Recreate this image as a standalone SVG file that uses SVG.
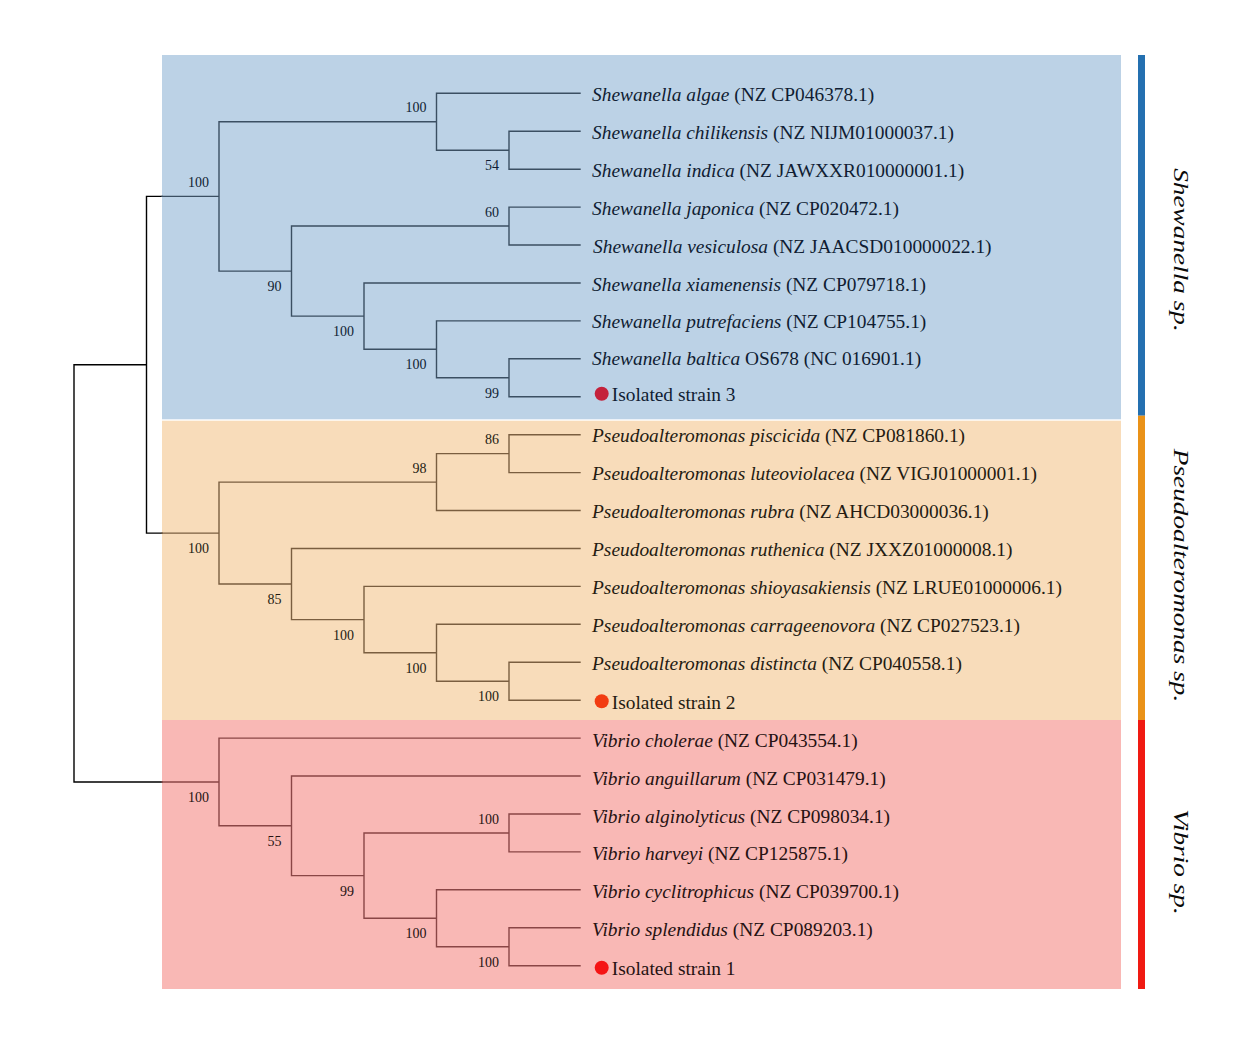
<svg xmlns="http://www.w3.org/2000/svg" width="1254" height="1049" viewBox="0 0 1254 1049">
<style>
.t{font-family:"Liberation Serif","Times New Roman",serif;font-size:19.4px}
.i{font-style:italic}
.bs{font-family:"Liberation Serif","Times New Roman",serif;font-size:14px;text-anchor:end}
.cl{font-family:"Liberation Serif","Times New Roman",serif;font-size:22px;font-style:italic;text-anchor:middle;fill:#0a0a0a}
.br{fill:none;stroke-width:1.4;stroke-linecap:square}
.sh{stroke:#3b4f62}.ps{stroke:#7a5e40}.vb{stroke:#8a4646}.rt{stroke:#000}
.tsh{fill:#101d33}.tps{fill:#241b12}.tvb{fill:#261212}
</style>
<rect width="1254" height="1049" fill="#fff"/>
<g id="backgrounds">
<rect x="162" y="55" width="959" height="364.3" fill="#bcd2e6"/>
<rect x="162" y="420.7" width="959" height="299.3" fill="#f8dcba"/>
<rect x="162" y="720" width="959" height="269" fill="#f9b8b5"/>
</g>
<g id="bars">
<rect x="1138" y="55" width="7" height="360.7" fill="#2470b0"/>
<rect x="1138" y="415.7" width="7" height="304.3" fill="#ea9218"/>
<rect x="1138" y="720" width="7" height="269" fill="#f01a12"/>
</g>
<g id="connectors">
<path class="br rt" d="M146.5 364.75 H74 V572.8 M74 573.8 V781.95 H162 M162 196.4 H146.5 V533.1 H162"/>
<path class="br sh" d="M162 196.4 H219 M580 131.2 H509 V169.2 H580 M580 93.3 H436.5 V150.2 H509 M580 207.1 H509 V245 H580 M580 358.8 H509 V396.7 H580 M580 320.9 H436.5 V377.75 H509 M580 283 H364 V349.3 H436.5 M509 226.05 H291.5 V316.15 H364 M436.5 121.75 H219 V271.1 H291.5"/>
<path class="br ps" d="M162 533.1 H219 M580 434.7 H509 V472.6 H580 M509 453.65 H436.5 V510.5 H580 M580 662.3 H509 V700.2 H580 M580 624.3 H436.5 V681.25 H509 M580 586.4 H364 V652.8 H436.5 M580 548.5 H291.5 V619.6 H364 M436.5 482.1 H219 V584.05 H291.5"/>
<path class="br vb" d="M162 781.95 H219 M580 927.8 H509 V965.7 H580 M580 889.8 H436.5 V946.75 H509 M580 814 H509 V851.9 H580 M509 832.95 H364 V918.3 H436.5 M580 776 H291.5 V875.6 H364 M580 738.1 H219 V825.8 H291.5"/>
</g>
<g id="bootstrap">
<g class="tsh">
<text class="bs" x="209" y="187">100</text>
<text class="bs" x="426.5" y="112.3">100</text>
<text class="bs" x="499" y="170.2">54</text>
<text class="bs" x="281.5" y="291.1">90</text>
<text class="bs" x="499" y="216.6">60</text>
<text class="bs" x="354" y="336.2">100</text>
<text class="bs" x="426.5" y="369.3">100</text>
<text class="bs" x="499" y="397.8">99</text>
</g>
<g class="tps">
<text class="bs" x="209" y="553.1">100</text>
<text class="bs" x="426.5" y="472.6">98</text>
<text class="bs" x="499" y="444.2">86</text>
<text class="bs" x="281.5" y="604.1">85</text>
<text class="bs" x="354" y="639.6">100</text>
<text class="bs" x="426.5" y="672.8">100</text>
<text class="bs" x="499" y="701.3">100</text>
</g>
<g class="tvb">
<text class="bs" x="209" y="802">100</text>
<text class="bs" x="281.5" y="845.8">55</text>
<text class="bs" x="354" y="895.6">99</text>
<text class="bs" x="499" y="823.5">100</text>
<text class="bs" x="426.5" y="938.3">100</text>
<text class="bs" x="499" y="966.8">100</text>
</g>
</g>
<g id="leaf-shewanella" class="tsh">
<text class="t" x="592" y="100.8"><tspan class="i">Shewanella algae</tspan> (NZ CP046378.1)</text>
<text class="t" x="592" y="138.7"><tspan class="i">Shewanella chilikensis</tspan> (NZ NIJM01000037.1)</text>
<text class="t" x="592" y="176.7"><tspan class="i">Shewanella indica</tspan> (NZ JAWXXR010000001.1)</text>
<text class="t" x="592" y="214.6"><tspan class="i">Shewanella japonica</tspan> (NZ CP020472.1)</text>
<text class="t" x="593" y="252.5"><tspan class="i">Shewanella vesiculosa</tspan> (NZ JAACSD010000022.1)</text>
<text class="t" x="592" y="290.5"><tspan class="i">Shewanella xiamenensis</tspan> (NZ CP079718.1)</text>
<text class="t" x="592" y="328.4"><tspan class="i">Shewanella putrefaciens</tspan> (NZ CP104755.1)</text>
<text class="t" x="592" y="364.8"><tspan class="i">Shewanella baltica</tspan> OS678 (NC 016901.1)</text>
</g>
<g id="isolated-strain-3">
<circle cx="601.7" cy="393.7" r="7" fill="#c4213b"/>
<text class="t tsh" x="611.7" y="401">Isolated strain 3</text>
</g>
<g id="leaf-pseudoalteromonas" class="tps">
<text class="t" x="592" y="442.2"><tspan class="i">Pseudoalteromonas piscicida</tspan> (NZ CP081860.1)</text>
<text class="t" x="592" y="480.1"><tspan class="i">Pseudoalteromonas luteoviolacea</tspan> (NZ VIGJ01000001.1)</text>
<text class="t" x="592" y="518"><tspan class="i">Pseudoalteromonas rubra</tspan> (NZ AHCD03000036.1)</text>
<text class="t" x="592" y="556"><tspan class="i">Pseudoalteromonas ruthenica</tspan> (NZ JXXZ01000008.1)</text>
<text class="t" x="592" y="593.9"><tspan class="i">Pseudoalteromonas shioyasakiensis</tspan> (NZ LRUE01000006.1)</text>
<text class="t" x="592" y="631.8"><tspan class="i">Pseudoalteromonas carrageenovora</tspan> (NZ CP027523.1)</text>
<text class="t" x="592" y="669.8"><tspan class="i">Pseudoalteromonas distincta</tspan> (NZ CP040558.1)</text>
</g>
<g id="isolated-strain-2">
<circle cx="601.7" cy="701.2" r="7" fill="#f23c12"/>
<text class="t tps" x="611.7" y="708.5">Isolated strain 2</text>
</g>
<g id="leaf-vibrio" class="tvb">
<text class="t" x="592" y="746.6"><tspan class="i">Vibrio cholerae</tspan> (NZ CP043554.1)</text>
<text class="t" x="592" y="784.5"><tspan class="i">Vibrio anguillarum</tspan> (NZ CP031479.1)</text>
<text class="t" x="592" y="822.5"><tspan class="i">Vibrio alginolyticus</tspan> (NZ CP098034.1)</text>
<text class="t" x="592" y="860.4"><tspan class="i">Vibrio harveyi</tspan> (NZ CP125875.1)</text>
<text class="t" x="592" y="898.3"><tspan class="i">Vibrio cyclitrophicus</tspan> (NZ CP039700.1)</text>
<text class="t" x="592" y="936.3"><tspan class="i">Vibrio splendidus</tspan> (NZ CP089203.1)</text>
</g>
<g id="isolated-strain-1">
<circle cx="601.7" cy="967.7" r="7" fill="#f51414"/>
<text class="t tvb" x="611.7" y="975">Isolated strain 1</text>
</g>
<g id="clade-labels">
<text class="cl" transform="translate(1174 250) rotate(90) scale(1.24 1)">Shewanella sp.</text>
<text class="cl" transform="translate(1174 575.5) rotate(90) scale(1.24 1)">Pseudoalteromonas sp.</text>
<text class="cl" transform="translate(1174 862) rotate(90) scale(1.24 1)">Vibrio sp.</text>
</g>
</svg>
